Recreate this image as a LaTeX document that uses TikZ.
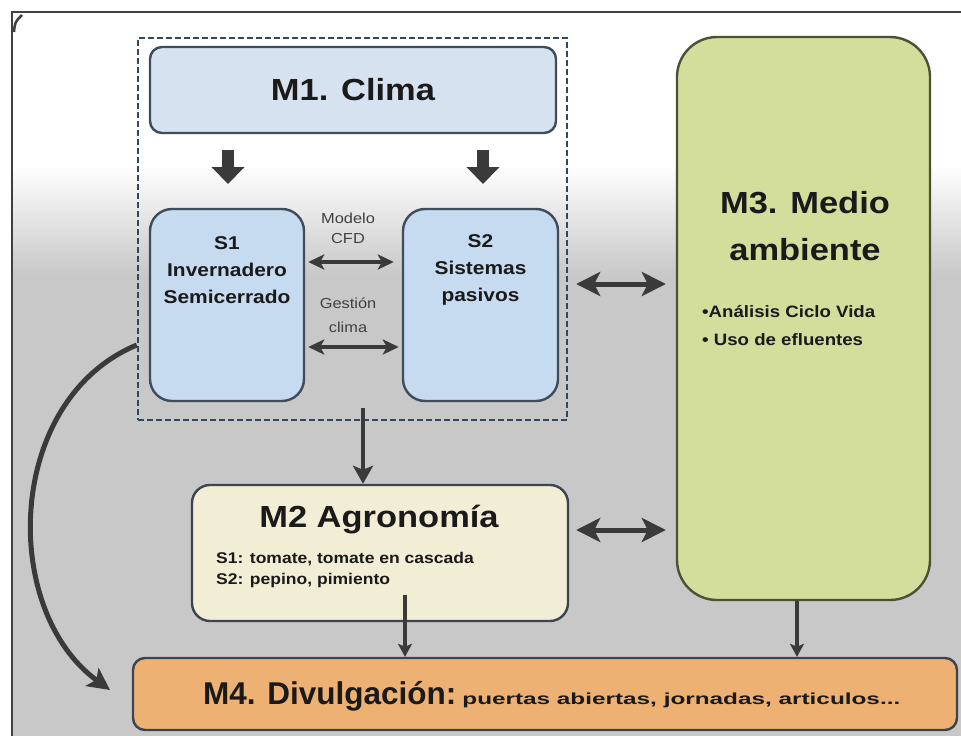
\documentclass[tikz,border=0pt]{standalone}
\usepackage{fontspec}
\usepackage{graphicx}
\setmainfont{Liberation Sans}
\newfontfamily\wbf{Liberation Sans}[FakeStretch=1.13]
\usetikzlibrary{arrows.meta}
\definecolor{bgray}{HTML}{C8C8C8}
\definecolor{framec}{HTML}{404040}
\definecolor{m1fill}{HTML}{D6E2F0}
\definecolor{sfill}{HTML}{C6DAF0}
\definecolor{bluebord}{HTML}{3E4C5C}
\definecolor{m3fill}{HTML}{D3DD9C}
\definecolor{m3bord}{HTML}{4A5236}
\definecolor{m2fill}{HTML}{F2EED6}
\definecolor{m4fill}{HTML}{ECB173}
\definecolor{darkbord}{HTML}{3C4450}
\definecolor{arrc}{HTML}{3A3A3A}
\definecolor{txtc}{HTML}{1A1A1A}
\definecolor{dashc}{HTML}{34465E}
\tikzset{
  boxbase/.style={line width=2.4pt, inner sep=0pt, text=txtc},
  m1box/.style={boxbase, draw=bluebord, fill=m1fill, rounded corners=12pt},
  sbox/.style={boxbase, draw=bluebord, fill=sfill, rounded corners=22pt},
  m3box/.style={boxbase, draw=m3bord, fill=m3fill, rounded corners=40pt},
  m2box/.style={boxbase, draw=darkbord, fill=m2fill, rounded corners=18pt},
  m4box/.style={boxbase, draw=darkbord, fill=m4fill, rounded corners=12pt},
  grpbox/.style={draw=dashc, line width=2.4pt, dash pattern=on 6pt off 3pt, inner sep=0pt},
  txt/.style={inner sep=0pt, text=txtc, align=center},
  fatarrow/.style={draw=arrc, line width=12pt, -{Triangle[length=17pt,width=32pt]}},
  dblarrow/.style={draw=arrc, line width=5pt, {Stealth[length=24pt,width=24pt,inset=6pt]}-{Stealth[length=24pt,width=24pt,inset=6pt]}},
  smalldbl/.style={draw=arrc, line width=3.5pt, {Stealth[length=16pt,width=15pt,inset=4pt]}-{Stealth[length=16pt,width=15pt,inset=4pt]}},
  downarrow/.style={draw=arrc, line width=4.5pt, -{Stealth[length=18pt,width=20pt,inset=4pt]}},
  thinarrow/.style={draw=arrc, line width=3.5pt, -{Stealth[length=13pt,width=14pt,inset=3pt]}},
  curvarrow/.style={draw=arrc, line width=5pt, -{Stealth[length=22pt,width=22pt,inset=5pt]}},
}
\begin{document}
\begin{tikzpicture}[x=1pt,y=-1pt]
\useasboundingbox (0,0) rectangle (961,736);
% background
\fill[white] (0,0) rectangle (961,736);
\shade[top color=white, bottom color=bgray] (12,165) rectangle (961,275);
\fill[bgray] (12,275) rectangle (961,736);
\draw[framec, line width=1.5pt] (12,736) -- (12,12) -- (961,12);
\draw[framec, line width=2.5pt] (14,32) .. controls (15,22) .. (22,15);

% group (dashed)
\node[grpbox, minimum width=429pt, minimum height=382pt] (grp) at (352.5,229) {};

% boxes
\node[m1box, minimum width=406pt, minimum height=86pt] (m1) at (353,90)
  {\wbf\bfseries\fontsize{30.5}{34}\selectfont M1. Clima};
\node[sbox, minimum width=154pt, minimum height=192pt] (s1) at (227,305) {};
\node[sbox, minimum width=155pt, minimum height=192pt] (s2) at (480.5,305) {};
\node[m3box, minimum width=253pt, minimum height=563pt] (m3) at (803.5,318.5) {};
\node[m2box, minimum width=376pt, minimum height=136pt] (m2) at (380,553) {};
\node[m4box, minimum width=824pt, minimum height=72pt] (m4) at (545,694) {};
\node[txt, anchor=base west] (m4t) at (203,704)
  {\bfseries\fontsize{31.5}{34}\selectfont M4. Divulgación:\hspace{6pt}\scalebox{1.52}[1]{\fontsize{16}{18}\selectfont puertas abiertas, jornadas, articulos...}};

% texts
\node[txt, font=\wbf\bfseries\fontsize{18.5}{27}\selectfont] (s1t) at (227,270) {S1\\Invernadero\\Semicerrado};
\node[txt, font=\wbf\bfseries\fontsize{18.5}{27}\selectfont] (s2t) at (480.5,270) {S2\\Sistemas\\pasivos};
\node[txt, font=\wbf\fontsize{14.5}{20}\selectfont, text=black!75] (cfd) at (348,228) {Modelo\\CFD};
\node[txt, font=\wbf\fontsize{14.5}{24}\selectfont, text=black!75] (gc) at (348,315) {Gestión\\clima};
\node[txt, font=\wbf\bfseries\fontsize{30.5}{47}\selectfont] (m3t) at (805,226) {M3. Medio\\ambiente};
\node[txt, align=left, font=\wbf\bfseries\fontsize{16.5}{28}\selectfont, anchor=west] (m3b) at (702,326) {•Análisis Ciclo Vida\\• Uso de efluentes};
\node[txt, font=\wbf\bfseries\fontsize{30.5}{34}\selectfont] (m2t) at (379,520) {M2 Agronomía};
\node[txt, align=left, anchor=west, font=\wbf\bfseries\fontsize{15.5}{21}\selectfont] (m2s) at (216,570) {S1: tomate, tomate en cascada\\S2: pepino, pimiento};

% fat arrows from M1
\coordinate (fa1) at (228,150); \coordinate (fb1) at (228,184);
\coordinate (fa2) at (483,150); \coordinate (fb2) at (483,184);
\draw[fatarrow] (fa1) -- (fb1);
\draw[fatarrow] (fa2) -- (fb2);

% arrows between S1 and S2
\draw[smalldbl, shorten <=3pt, shorten >=8pt] ([yshift=43pt]s1.east) -- ([yshift=43pt]s2.west);
\draw[smalldbl, shorten <=3pt, shorten >=3pt] ([yshift=-42pt]s1.east) -- ([yshift=-42pt]s2.west);

% double arrows to M3
\draw[dblarrow, shorten <=8pt, shorten >=10pt] (grp.east |- 0,284) -- (m3.west |- 0,284);
\draw[dblarrow, shorten <=7pt, shorten >=10pt] (m2.east |- 0,530) -- (m3.west |- 0,530);

% group to M2
\coordinate (d1) at (363,408);
\draw[downarrow] (d1) -- (d1 |- m2.north);

% M2 to M4, M3 to M4
\coordinate (d2) at (405,595);
\draw[thinarrow] (d2) -- (d2 |- m4.north);
\draw[thinarrow] ([xshift=-6.5pt]m3.south) -- ([xshift=-6.5pt]m3.south |- m4.north);

% curved arrow
\coordinate (ce) at (110,690);
\draw[curvarrow] (grp.west |- 0,345) .. controls (5,400) and (0,610) .. (ce);
\end{tikzpicture}
\end{document}
